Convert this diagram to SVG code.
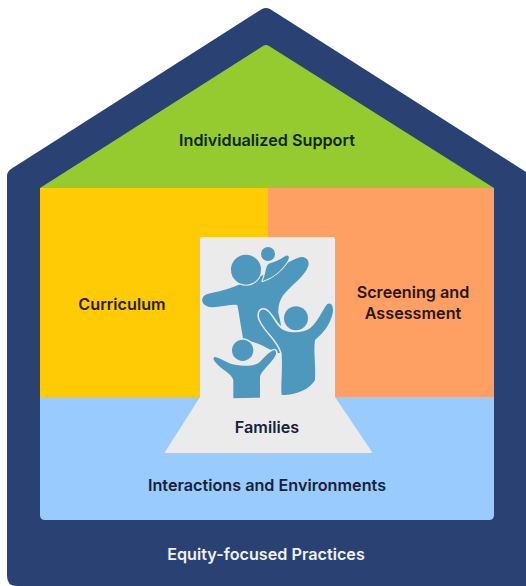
<svg xmlns="http://www.w3.org/2000/svg" width="526" height="586" viewBox="0 0 526 586">
<style>
text{font-family:Inter,"Liberation Sans",sans-serif;font-weight:600;font-size:16.2px;text-anchor:middle;fill:#16213a}
.p{fill:#4f98bd}
.o{stroke:#ebebeb;stroke-width:9;stroke-linejoin:round;paint-order:stroke}
</style>
<rect width="526" height="586" fill="#fff"/>
<g id="equity">
<path d="M11 169L262 9Q266 7 270 9L526 172V586H17Q7 586 7 576V176Q7 172 11 169Z" fill="#2a4173"/>
<text x="266" y="559.5" style="fill:#eef2f7">Equity-focused Practices</text>
</g>
<g id="support">
<path d="M40 188L263 46Q266 44 269 46L494 188Z" fill="#95cb2f"/>
<text x="267" y="146" style="fill:#10261a">Individualized Support</text>
</g>
<g id="curriculum">
<rect x="40" y="188" width="228" height="212" fill="#ffcb05"/>
<text x="122" y="309.5" style="fill:#2a1c05">Curriculum</text>
</g>
<g id="screening">
<rect x="268" y="188" width="226" height="212" fill="#fea064"/>
<text x="413" y="298" style="fill:#2c1512">Screening and</text>
<text x="413" y="318.5" style="fill:#2c1512">Assessment</text>
</g>
<g id="interactions">
<path d="M40 397H494V515Q494 520 489 520H45Q40 520 40 515Z" fill="#99cbfe"/>
<text x="267" y="490.5">Interactions and Environments</text>
</g>
<g id="families">
<path d="M202 237H333Q335 237 335 239V397L372 452Q373 453 371 453H166Q164 453 165 452L200 397V239Q200 237 202 237Z" fill="#ebebeb"/>
<g transform="translate(150 225) scale(.3333)">
<path class="p" d="M175 206C225 198 270 180 340 150C380 130 415 110 445 98C462 92 480 102 475 122C468 150 425 180 400 210C385 232 385 250 385 265C395 300 400 340 392 385C370 385 330 350 280 345C272 300 268 270 262 240C235 236 205 250 178 246C150 240 150 212 175 206Z"/>
<circle class="p o" style="stroke-width:6" cx="288" cy="134" r="45"/>
<path class="p o" style="stroke-width:7" d="M338 168C350 140 345 118 362 114C378 110 395 100 408 92C420 90 418 102 412 110C395 135 375 155 338 168Z"/>
<circle class="p" cx="354" cy="87" r="21"/>
<circle class="p o" cx="278" cy="376" r="32"/>
<path class="p o" d="M196 396C215 400 235 418 260 420C280 424 315 425 330 410C345 395 365 372 375 376C385 385 370 405 350 425C340 438 330 445 330 460L330 518L250 520L250 465C245 445 215 435 195 410C188 402 190 396 196 396Z"/>
<path class="p o" d="M345 254C365 262 375 300 400 315C420 325 460 325 480 310C505 290 520 250 532 237C545 230 552 245 548 265C540 300 520 325 495 345C490 380 498 420 495 465C480 495 430 512 395 510C392 480 398 440 395 385C385 345 345 320 330 285C322 265 330 250 345 254Z"/>
<circle class="p" cx="438" cy="280" r="36"/>
</g>
<text x="267" y="432.5">Families</text>
</g>
<g id="connectors"></g>
</svg>
